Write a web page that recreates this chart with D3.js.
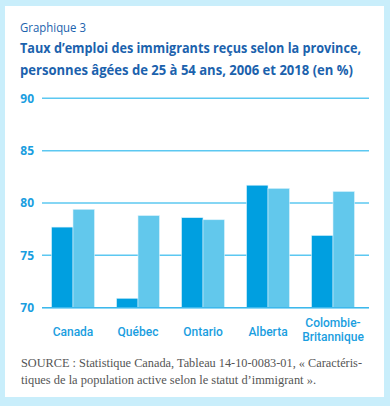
<!DOCTYPE html>
<html><head><meta charset="utf-8">
<script src="https://cdn.jsdelivr.net/npm/d3@7"></script>
<style>
html,body{margin:0;padding:0;background:#c9eefb;}
svg{display:block;}
</style></head>
<body>
<svg id="c" width="390" height="406"></svg>
<script>
const categories = ["Canada", "Québec", "Ontario", "Alberta", "Colombie-\nBritannique"];
const series = ["2006", "2018"];
const values2006 = [77.7, 70.9, 78.6, 81.7, 76.9];
const values2018 = [79.4, 78.8, 78.4, 81.4, 81.1];
const yTicks = [70, 75, 80, 85, 90];
const colors = ["#009fe0", "#62c8ec"];

const svg = d3.select("#c");
svg.append("rect").attr("x", 5).attr("y", 6).attr("width", 379).attr("height", 391).attr("fill", "#fff");

svg.append("text").attr("x", 20).attr("y", 32).attr("font-family", "Open Sans, sans-serif")
  .attr("font-size", 12).attr("fill", "#1b62ad").attr("textLength", 66).attr("lengthAdjust", "spacingAndGlyphs").text("Graphique 3");
const titleLines = ["Taux d’emploi des immigrants reçus selon la province,", "personnes âgées de 25 à 54 ans, 2006 et 2018 (en %)"];
titleLines.forEach((t, i) => {
  svg.append("text").attr("x", 20).attr("y", 53 + i * 22).attr("font-family", "Open Sans, sans-serif")
    .attr("font-weight", "bold").attr("font-size", 13.5).attr("fill", "#1b62ad")
    .attr("textLength", i === 0 ? 341 : 333).attr("lengthAdjust", "spacingAndGlyphs").text(t);
});

const y = d3.scaleLinear().domain([70, 90]).range([307.7, 98.3]);
const x = d3.scaleBand().domain(categories).range([40.5, 365.5]).paddingInner(0.34).paddingOuter(0.17);
const xs = d3.scaleBand().domain(series).range([0, x.bandwidth()]);

// gridlines
svg.append("g").selectAll("line").data(yTicks).join("line")
  .attr("x1", 42).attr("x2", 369).attr("y1", d => y(d)).attr("y2", d => y(d))
  .attr("stroke", "#5cc8f1").attr("stroke-width", 1.5);

// y axis labels
const yAxis = d3.axisLeft(y).tickValues(yTicks).tickSize(0).tickPadding(0);
const ya = svg.append("g").attr("transform", "translate(34,0)").call(yAxis);
ya.select(".domain").remove();
ya.selectAll("text").attr("font-family", "Open Sans, sans-serif").attr("font-weight", "bold")
  .attr("font-size", 12).attr("fill", "#1a9ee0");

// bars
const data = categories.map((c, i) => ({c, v: [values2006[i], values2018[i]]}));
const g = svg.append("g").selectAll("g").data(data).join("g").attr("transform", d => `translate(${x(d.c)},0)`);
g.selectAll("rect").data(d => d.v.map((v, j) => ({s: series[j], v, j}))).join("rect")
  .attr("x", d => xs(d.s)).attr("width", xs.bandwidth())
  .attr("y", d => y(d.v)).attr("height", d => y(70) - y(d.v))
  .attr("fill", d => colors[d.j]).attr("stroke", "#d9f2fc").attr("stroke-width", 0.6);

// baseline
svg.append("line").attr("x1", 42).attr("x2", 369).attr("y1", y(70)).attr("y2", y(70))
  .attr("stroke", "#3db8ec").attr("stroke-width", 1.2);

// x labels
const xLabelG = svg.append("g");
categories.forEach(d => {
  const parts = d.split("\n");
  const y0 = parts.length > 1 ? 327 : 336;
  parts.forEach((p, i) => {
    xLabelG.append("text").attr("x", x(d) + x.bandwidth() / 2).attr("y", y0 + i * 13.5)
      .attr("text-anchor", "middle")
      .attr("font-family", "Roboto, sans-serif").attr("font-weight", 500).attr("font-size", 12)
      .attr("fill", "#1a9ee0").text(p);
  });
});

// source
const src = ["SOURCE :  Statistique Canada, Tableau 14-10-0083-01, « Caractéris-", "tiques de la population active selon le statut d’immigrant »."];
src.forEach((t, i) => {
  svg.append("text").attr("x", 21).attr("y", 367 + i * 17).attr("font-family", "Liberation Serif, serif")
    .attr("font-size", 12).attr("fill", "#555").attr("textLength", i === 0 ? 341 : 295)
    .attr("lengthAdjust", "spacingAndGlyphs").text(t);
});
</script>
</body></html>
